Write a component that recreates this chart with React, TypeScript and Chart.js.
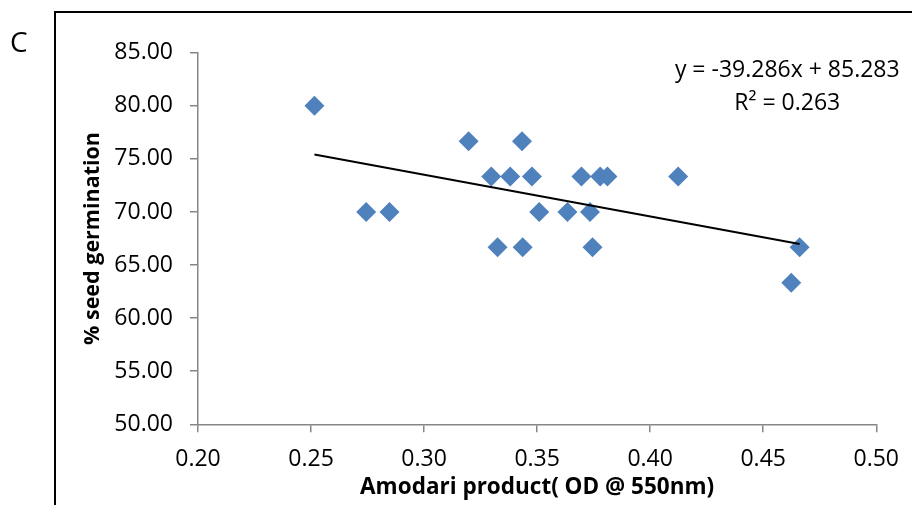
import React, { useEffect, useRef } from "react";
import { Chart, registerables } from "chart.js";

Chart.register(...registerables);

// Amodari product absorbance (OD @ 550nm) per sample
const odValues = [
  0.2515, 0.2744, 0.2847, 0.3197, 0.3297, 0.3325, 0.3381, 0.3433, 0.3436, 0.3477,
  0.3509, 0.3634, 0.3696, 0.3734, 0.3745, 0.3779, 0.3811, 0.4124, 0.4624, 0.4661,
];
// % seed germination per sample
const germination = [
  80.0, 70.0, 70.0, 76.67, 73.33, 66.67, 73.33, 76.67, 66.67, 73.33,
  70.0, 70.0, 73.33, 70.0, 66.67, 73.33, 73.33, 73.33, 63.33, 66.67,
];

// Linear trendline y = slope * x + intercept
const slope = -39.286;
const intercept = 85.283;
const rSquared = 0.263;

const panelLabel = "C";
const xTitle = "Amodari product( OD @ 550nm)";
const yTitle = "% seed germination";

const FONT = "'Open Sans', 'Noto Sans', sans-serif";
const AXIS_GREY = "#868686";
const MARKER_BLUE = "#4F81BD";

const overlayPlugin = {
  id: "overlay",
  afterDraw(chart: any) {
    const ctx = chart.ctx;
    const area = chart.chartArea;
    ctx.save();
    // panel frame
    ctx.strokeStyle = "#000";
    ctx.lineWidth = 2;
    ctx.beginPath();
    ctx.moveTo(55, chart.height);
    ctx.lineTo(55, 12);
    ctx.lineTo(chart.width, 12);
    ctx.stroke();

    // panel letter
    ctx.fillStyle = "#000";
    ctx.font = `28px ${FONT}`;
    ctx.textAlign = "left";
    ctx.textBaseline = "alphabetic";
    ctx.fillText(panelLabel, 10, 52);

    // trendline equation
    const cx = area.right - 89;
    ctx.font = `23px ${FONT}`;
    ctx.textAlign = "center";
    const sign = intercept >= 0 ? "+" : "-";
    ctx.fillText(
      `y = ${slope.toFixed(3)}x ${sign} ${Math.abs(intercept).toFixed(3)}`,
      cx,
      area.top + 24
    );
    ctx.fillText(`R\u00B2 = ${rSquared.toFixed(3)}`, cx, area.top + 57);
    ctx.restore();
  },
};

export default function App() {
  const canvasRef = useRef<HTMLCanvasElement | null>(null);

  useEffect(() => {
    const canvas = canvasRef.current;
    if (!canvas) return;
    const xMin = Math.min(...odValues);
    const xMax = Math.max(...odValues);
    const points = odValues.map((x, i) => ({ x, y: germination[i] }));
    const trend = [xMin, xMax].map((x) => ({ x, y: slope * x + intercept }));

    const chart = new Chart(canvas, {
      type: "scatter",
      data: {
        datasets: [
          {
            type: "line",
            label: "Trend",
            data: trend,
            borderColor: "#000",
            borderWidth: 2,
            pointRadius: 0,
            fill: false,
            order: 0,
          },
          {
            label: "Germination",
            data: points,
            pointStyle: "rectRot",
            pointRadius: 10,
            pointBackgroundColor: MARKER_BLUE,
            pointBorderColor: MARKER_BLUE,
            pointBorderWidth: 0,
            order: 1,
          },
        ],
      },
      options: {
        responsive: false,
        animation: false,
        devicePixelRatio: 1,
        layout: { padding: { left: 0, top: 52.7, right: 34.3, bottom: 0 } },
        plugins: {
          legend: { display: false },
          tooltip: { enabled: false },
        },
        scales: {
          x: {
            type: "linear",
            min: 0.2,
            max: 0.5,
            ticks: {
              stepSize: 0.05,
              padding: 13,
              color: "#000",
              font: { family: FONT, size: 23 },
              callback: (v: any) => Number(v).toFixed(2),
            },
            grid: {
              display: true,
              drawOnChartArea: false,
              drawTicks: true,
              tickLength: 8,
              color: AXIS_GREY,
              lineWidth: 1.5,
            },
            border: { display: true, color: AXIS_GREY, width: 1.5 },
            title: {
              display: true,
              text: xTitle,
              color: "#000",
              font: { family: FONT, size: 22.5, weight: "bold" },
              padding: { top: 0, bottom: 3.5 },
            },
            afterFit: (scale: any) => {
              scale.height = 80.7;
            },
          },
          y: {
            type: "linear",
            min: 50,
            max: 85,
            ticks: {
              stepSize: 5,
              padding: 17,
              color: "#000",
              font: { family: FONT, size: 23 },
              callback: (v: any) => Number(v).toFixed(2),
            },
            grid: {
              display: true,
              drawOnChartArea: false,
              drawTicks: true,
              tickLength: 8,
              color: AXIS_GREY,
              lineWidth: 1.5,
            },
            border: { display: true, color: AXIS_GREY, width: 1.5 },
            title: {
              display: true,
              text: yTitle,
              color: "#000",
              font: { family: FONT, size: 21.5, weight: "bold" },
              padding: { top: 80, bottom: 0 },
            },
            afterFit: (scale: any) => {
              scale.width = 198;
            },
          },
        },
      },
      plugins: [overlayPlugin],
    });
    return () => chart.destroy();
  }, []);

  return (
    <div style={{ position: "absolute", left: 0, top: 0, width: 912, height: 505, background: "#fff" }}>
      <canvas ref={canvasRef} width={912} height={505} />
    </div>
  );
}
